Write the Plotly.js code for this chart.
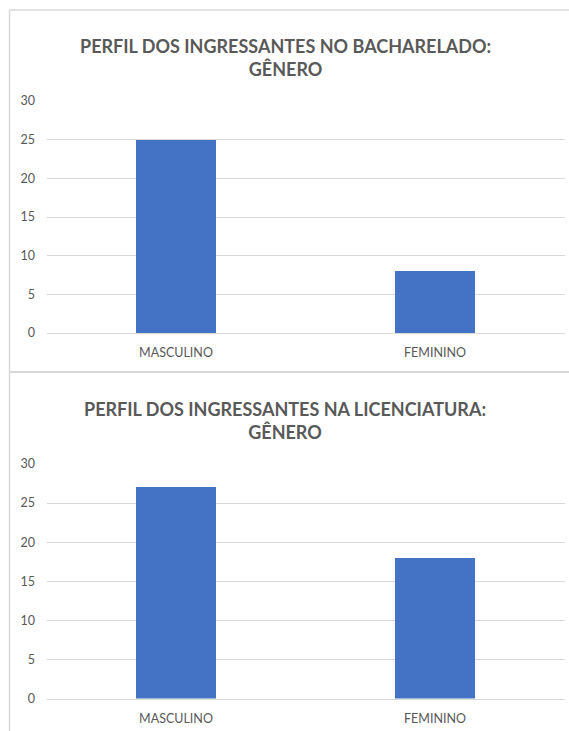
<!DOCTYPE html>
<html><head><meta charset="utf-8">
<script src="https://cdn.plot.ly/plotly-3.0.1.min.js"></script>
<style>html,body{margin:0;padding:0;background:#fff;}#c{width:569px;height:731px;}</style>
</head><body><div id="c"></div>
<script>
const categories = ["MASCULINO", "FEMININO"];
const bacharelado = [25, 8];
const licenciatura = [27, 18];
const titles = ["PERFIL DOS INGRESSANTES NO BACHARELADO:<br>GÊNERO", "PERFIL DOS INGRESSANTES NA LICENCIATURA:<br>GÊNERO"];
const yTicks = [0, 5, 10, 15, 20, 25, 30];

const W = 569, H = 731;
const px = x => x / W, py = y => 1 - y / H;
const FONT = "Lato, 'Open Sans', sans-serif";
const GREY = "#595959";
const BAR = "#4472C4";

const traces = [
  {type: "bar", x: categories, y: bacharelado, marker: {color: BAR}, width: 0.31, xaxis: "x", yaxis: "y", hoverinfo: "none"},
  {type: "bar", x: categories, y: licenciatura, marker: {color: BAR}, width: 0.31, xaxis: "x2", yaxis: "y2", hoverinfo: "none"}
];

const yax = dom => ({domain: dom, range: [0, 30], tickvals: yTicks, showgrid: true, gridcolor: "#d9d9d9", gridwidth: 1,
  zeroline: false, showline: false, ticks: "outside", ticklen: 8, tickcolor: "rgba(0,0,0,0)",
  tickfont: {family: FONT, size: 12.5, color: GREY}, fixedrange: true});
const xax = anchor => ({domain: [px(46.5), px(564.5)], anchor: anchor, showline: true, linecolor: "#d9d9d9", linewidth: 1,
  ticks: "outside", ticklen: 8, tickcolor: "rgba(0,0,0,0)", tickfont: {family: FONT, size: 12.5, color: GREY}, fixedrange: true});

const mkTitle = (t, yc) => ({text: t.split("<br>").map(s => "<b>" + s + "</b>").join("<br>"), x: px(285), y: py(yc),
  xref: "paper", yref: "paper", xanchor: "center", yanchor: "middle", showarrow: false,
  font: {family: FONT, size: 18, color: GREY}, align: "center"});

const layout = {
  width: W, height: H, margin: {l: 0, r: 0, t: 0, b: 0}, showlegend: false,
  paper_bgcolor: "#fff", plot_bgcolor: "#fff", bargap: 0,
  xaxis: xax("y"), xaxis2: xax("y2"),
  yaxis: yax([py(333), py(101)]), yaxis2: Object.assign(yax([py(698.5), py(464)]), {anchor: "x2"}),
  annotations: [mkTitle(titles[0], 57.5), mkTitle(titles[1], 420)],
  shapes: [
    {type: "line", xref: "paper", yref: "paper", x0: px(9.5), x1: px(9.5), y0: py(10), y1: py(731), line: {color: "#d9d9d9", width: 1.5}},
    {type: "line", xref: "paper", yref: "paper", x0: px(9), x1: 1, y0: py(10), y1: py(10), line: {color: "#d9d9d9", width: 1.5}},
    {type: "line", xref: "paper", yref: "paper", x0: px(9), x1: 1, y0: py(372), y1: py(372), line: {color: "#d9d9d9", width: 2}}
  ]
};
Plotly.newPlot("c", traces, layout, {staticPlot: true, displayModeBar: false});
</script></body></html>
